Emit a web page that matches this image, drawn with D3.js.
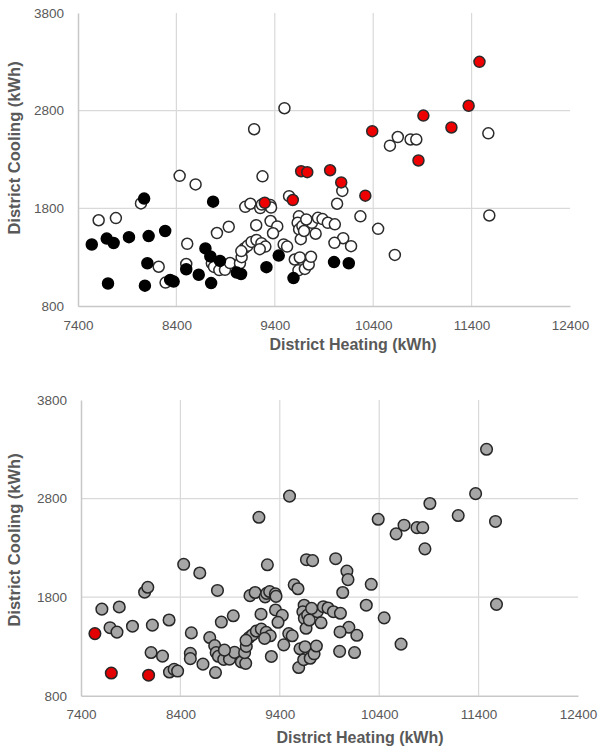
<!DOCTYPE html>
<html>
<head>
<meta charset="utf-8">
<script src="https://cdn.jsdelivr.net/npm/d3@7/dist/d3.min.js"></script>
<style>
  html, body { margin: 0; padding: 0; background: #fff; }
  svg { display: block; }
  text { font-family: "Liberation Sans", Arial, sans-serif; }
</style>
</head>
<body>
<svg id="chart" width="600" height="747"></svg>
<script>
// ---- Data ----
const heating = [
  7540, 7705, 8080, 7610, 7785, 7692, 7762, 7918, 8040, 8072,
  8118, 8286, 8105, 8220, 8290, 8337, 8372, 8433, 8595, 8510,
  8500, 8500, 8627, 8753, 8773, 8812, 8932, 8695, 8745, 8760,
  8782, 8836, 8894, 8945, 8843, 9013, 9057, 9046, 9063, 9090,
  9100, 9152, 9252, 9268, 9298, 9355, 9362, 9275, 9190, 9498,
  9211, 9123, 9164, 9214, 9264, 9304, 9247, 9060, 9315, 9357,
  9425, 9382, 9440, 9490, 9525, 9545, 9583, 9668, 9730, 9590,
  9645, 9632, 9647, 9680, 9664, 9697, 9603, 9654, 9640, 9706,
  9745, 9768, 9777, 9815, 9838, 9885, 9939, 9720, 9962, 10075,
  10086, 10320, 10033, 10270, 10450, 10620, 11580, 10010, 10095, 10006,
  10175, 10002, 10152, 10390, 10650, 10570, 10780, 10838, 10860, 10910,
  11195, 11370, 11480, 11570
];
const cooling = [
  1430, 1030, 1008, 1678, 1700, 1490, 1445, 1505, 1850, 1900,
  1516, 1568, 1238, 1202, 1040, 1067, 1050, 2133, 2045, 1437,
  1230, 1176, 1120, 1035, 1868, 1547, 1611, 1390, 1308, 1237,
  1200, 1168, 1170, 1240, 1262, 1142, 1128, 1237, 1300, 1390,
  1815, 1847, 1803, 1838, 1857, 1833, 1808, 2128, 2610, 2825,
  1627, 1416, 1456, 1476, 1443, 1408, 1382, 1362, 1198, 1670,
  1615, 1545, 1316, 1430, 1408, 1925, 1885, 2180, 2170, 1086,
  1718, 1652, 1585, 1618, 1484, 1568, 1276, 1297, 1165, 1180,
  1225, 1304, 1652, 1540, 1703, 1690, 1652, 1686, 2190, 2065,
  1978, 1930, 1847, 1718, 1590, 1323, 1727, 1636, 1494, 1447,
  1413, 1250, 1238, 2590, 2530, 2442, 2505, 2505, 2290, 2750,
  2628, 2850, 3300, 2568
];
// top chart group: r = red, b = black, w = white
const topGroup = [
  "b","b","b","w","w","b","b","b","w","b",
  "b","b","b","w","w","b","b","w","w","w",
  "w","b","b","b","b","w","w","b","b","w",
  "w","w","w","w","b","b","b","w","w","w",
  "w","w","w","w","r","w","w","w","w","w",
  "w","w","w","w","w","w","w","w","b","w",
  "w","w","b","w","w","w","r","r","r","b",
  "w","w","w","w","w","w","w","w","w","w",
  "w","w","w","w","w","w","w","w","r","r",
  "w","r","w","w","w","w","w","w","w","w",
  "w","b","b","r","w","w","w","w","r","r",
  "r","r","r","w"
];
// bottom chart: highlighted (red) points, all others grey
const bottomRed = [0, 1, 2];

const xTicks = [7400, 8400, 9400, 10400, 11400, 12400];
const yTicks = [800, 1800, 2800, 3800];
const xTitle = "District Heating (kWh)";
const yTitle = "District Cooling (kWh)";

const points = heating.map((h, i) => ({ h, c: cooling[i], g: topGroup[i], red: bottomRed.includes(i) }));

const svg = d3.select("#chart");

function drawPanel(cfg) {
  const x = d3.scaleLinear().domain([7400, 12400]).range([cfg.x0, cfg.x1]);
  const y = d3.scaleLinear().domain([800, 3800]).range([cfg.y0, cfg.y1]);
  const g = svg.append("g");

  // gridlines
  g.append("g").selectAll("line.v").data(xTicks.slice(1, -1)).join("line")
    .attr("x1", d => x(d)).attr("x2", d => x(d))
    .attr("y1", y(3800)).attr("y2", y(800))
    .attr("stroke", "#d9d9d9").attr("stroke-width", 1.2);
  g.append("g").selectAll("line.h").data(yTicks.slice(1, -1)).join("line")
    .attr("x1", x(7400)).attr("x2", x(12400))
    .attr("y1", d => y(d)).attr("y2", d => y(d))
    .attr("stroke", "#d9d9d9").attr("stroke-width", 1.2);

  // axes
  const xAxis = d3.axisBottom(x).tickValues(xTicks).tickFormat(d3.format("d")).tickSize(0).tickPadding(14);
  const yAxis = d3.axisLeft(y).tickValues(yTicks).tickFormat(d3.format("d")).tickSize(0).tickPadding(14);
  const gx = g.append("g").attr("transform", `translate(0,${y(800)})`).call(xAxis);
  const gy = g.append("g").attr("transform", `translate(${x(7400)},0)`).call(yAxis);
  [gx, gy].forEach(a => {
    a.select(".domain").attr("stroke", "#c8c8c8").attr("stroke-width", 1.5);
    a.selectAll("text").attr("fill", "#595959").attr("font-size", 13.5);
  });

  // titles
  g.append("text").attr("x", cfg.xtX).attr("y", cfg.xtY).attr("text-anchor", "middle")
    .attr("font-size", 16).attr("font-weight", "bold").attr("fill", "#595959").text(xTitle);
  g.append("text").attr("transform", `translate(${cfg.ytX},${cfg.ytY}) rotate(-90)`)
    .attr("text-anchor", "middle").attr("font-size", 16.5).attr("font-weight", "bold")
    .attr("fill", "#595959").text(yTitle);

  // points
  const pts = cfg.order(points);
  g.append("g").selectAll("circle").data(pts).join("circle")
    .attr("cx", d => x(d.h)).attr("cy", d => y(d.c)).attr("r", cfg.r)
    .attr("fill", cfg.fill).attr("stroke", cfg.stroke).attr("stroke-width", 1.5);
}

const rank = { w: 0, b: 1, r: 2 };
drawPanel({
  x0: 78, x1: 570, y0: 306, y1: 13, r: 5.5,
  xtX: 353, xtY: 350, ytX: 20, ytY: 148,
  order: p => p.slice().sort((a, b) => rank[a.g] - rank[b.g]),
  fill: d => d.g === "r" ? "#ee0000" : d.g === "b" ? "#000000" : "#ffffff",
  stroke: d => d.g === "b" ? "#000000" : "#2b2b2b"
});
drawPanel({
  x0: 81, x1: 578, y0: 695.7, y1: 400, r: 5.8,
  xtX: 360, xtY: 743, ytX: 20, ytY: 540,
  order: p => p.slice().sort((a, b) => (a.red ? 1 : 0) - (b.red ? 1 : 0)),
  fill: d => d.red ? "#e30000" : "#a6a6a6",
  stroke: d => "#262626"
});
</script>
</body>
</html>
